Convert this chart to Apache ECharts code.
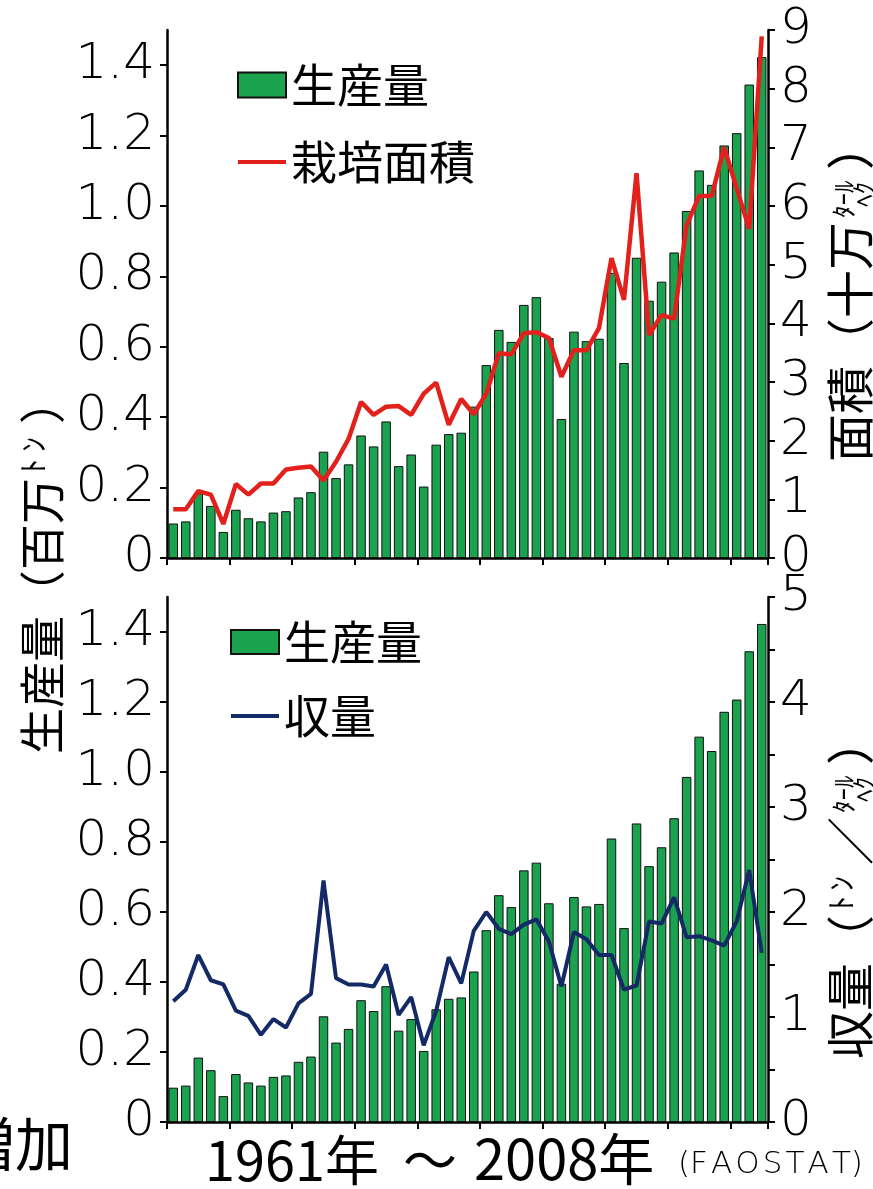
<!DOCTYPE html>
<html>
<head>
<meta charset="utf-8">
<script src="https://cdn.jsdelivr.net/npm/echarts@6/dist/echarts.min.js"></script>
<style>
  html, body { margin: 0; padding: 0; background: #fff; }
  #chart { width: 873px; height: 1189px; }
</style>
</head>
<body>
<div id="chart"></div>
<script>
// Years 1961–2008
const years = [
  '1961','1962','1963','1964','1965','1966','1967','1968','1969','1970',
  '1971','1972','1973','1974','1975','1976','1977','1978','1979','1980',
  '1981','1982','1983','1984','1985','1986','1987','1988','1989','1990',
  '1991','1992','1993','1994','1995','1996','1997','1998','1999','2000',
  '2001','2002','2003','2004','2005','2006','2007','2008'
];

// Production (million tonnes)
const production = [
  0.098, 0.104, 0.184, 0.148, 0.074, 0.137, 0.113, 0.104, 0.129, 0.133,
  0.172, 0.187, 0.302, 0.227, 0.266, 0.348, 0.317, 0.388, 0.261, 0.294,
  0.203, 0.322, 0.352, 0.356, 0.430, 0.548, 0.648, 0.614, 0.719, 0.741,
  0.625, 0.395, 0.643, 0.616, 0.623, 0.810, 0.554, 0.853, 0.731, 0.785,
  0.868, 0.986, 1.101, 1.060, 1.172, 1.207, 1.345, 1.423
];

// Harvested area (100,000 ha)
const area = [
  0.83, 0.83, 1.14, 1.08, 0.58, 1.26, 1.08, 1.27, 1.27, 1.51,
  1.54, 1.56, 1.32, 1.64, 2.03, 2.66, 2.44, 2.58, 2.59, 2.44,
  2.80, 2.99, 2.27, 2.71, 2.45, 2.80, 3.49, 3.47, 3.83, 3.85,
  3.75, 3.09, 3.54, 3.54, 3.92, 5.11, 4.40, 6.56, 3.80, 4.14,
  4.08, 5.67, 6.17, 6.17, 7.00, 6.30, 5.61, 8.89
];

// Yield (t/ha)
const yieldPerHa = [
  1.15, 1.26, 1.59, 1.35, 1.31, 1.06, 1.01, 0.83, 0.98, 0.90,
  1.13, 1.22, 2.30, 1.37, 1.31, 1.31, 1.29, 1.50, 1.02, 1.19,
  0.73, 1.06, 1.57, 1.32, 1.82, 2.00, 1.84, 1.79, 1.88, 1.93,
  1.72, 1.29, 1.81, 1.74, 1.59, 1.59, 1.26, 1.30, 1.91, 1.89,
  2.14, 1.76, 1.77, 1.73, 1.68, 1.91, 2.40, 1.61
];

// Tick values
const productionTicks = [0, 0.2, 0.4, 0.6, 0.8, 1.0, 1.2, 1.4];
const areaTicks = [0, 1, 2, 3, 4, 5, 6, 7, 8, 9];
const yieldTicks = [0, 0.5, 1, 1.5, 2, 2.5, 3, 3.5, 4, 4.5, 5];
const yieldLabels = [0, 1, 2, 3, 4, 5];

const JP = '"Noto Sans CJK JP", "Noto Sans CJK SC", sans-serif';
const NUM = '"DejaVu Sans", "Liberation Sans", sans-serif';
const GREEN = '#1ba24f';
const RED = '#e3211c';
const NAVY = '#142a66';

const axisLineStyle = { lineStyle: { color: '#000', width: 2.5 } };
const tickStyle = { show: true, length: 7, lineStyle: { color: '#000', width: 2 } };
const numLabel = {
  color: '#000', fontFamily: NUM, fontSize: 50, fontWeight: 200, margin: 12
};
// Thin horizontal bar used as the legend swatch of a line series
const LINE_ICON = 'path://M0,0H48V4H0Z';

function fmtProd(v) { return v === 0 ? '0' : v.toFixed(1); }

// Rotated (bottom-to-top) axis caption built from segments; a segment may
// stack two small lines (ﾍｸ / ﾀｰﾙ).
function rotatedCaption(cx, cy, segs) {
  const total = segs.reduce((s, g) => s + g.adv, 0);
  let x = -total / 2;
  const children = [];
  segs.forEach(g => {
    g.lines.forEach(l => {
      children.push({
        type: 'text',
        x: x + (l.dx || 0),
        y: l.dy || 0,
        style: {
          text: l.t,
          font: l.size + 'px ' + JP,
          fill: '#000',
          align: 'left',
          verticalAlign: 'middle'
        }
      });
    });
    x += g.adv;
  });
  return { type: 'group', x: cx, y: cy, rotation: Math.PI / 2, children };
}

const big = 46, bigR = 48, small = 25;
const hectare = {
  adv: 52, lines: [
    { t: 'ﾀｰﾙ', size: small, dy: -7, dx: 4 },
    { t: 'ﾍｸ', size: small, dy: 13, dx: 15 }
  ]
};

const leftCaption = rotatedCaption(42, 566, [
  { adv: big * 6, lines: [{ t: '生産量（百万', size: big }] },
  { adv: 26, lines: [{ t: 'ﾄ', size: 30, dy: -9, dx: 4 }] },
  { adv: 28, lines: [{ t: 'ﾝ', size: 30, dy: -9 }] },
  { adv: big, lines: [{ t: '）', size: big }] }
]);

const areaCaption = rotatedCaption(850, 292, [
  { adv: bigR * 5, lines: [{ t: '面積（十万', size: bigR }] },
  hectare,
  { adv: bigR, lines: [{ t: '）', size: bigR }] }
]);

const yieldCaption = rotatedCaption(850, 888, [
  { adv: bigR * 3, lines: [{ t: '収量（', size: bigR }] },
  { adv: 24, lines: [{ t: 'ﾄ', size: 30, dy: -9, dx: 4 }] },
  { adv: 26, lines: [{ t: 'ﾝ', size: 30, dy: -9 }] },
  { adv: bigR, lines: [{ t: '／', size: bigR }] },
  hectare,
  { adv: bigR, lines: [{ t: '）', size: bigR }] }
]);

const chart = echarts.init(document.getElementById('chart'), null, { renderer: 'canvas' });

const legendText = { fontFamily: JP, fontSize: 46, color: '#000' };

const option = {
  animation: false,
  backgroundColor: '#fff',
  grid: [
    { left: 167, right: 105, top: 30, height: 528 },
    { left: 167, right: 105, top: 597, height: 525 }
  ],
  legend: [
    {
      data: [
        { name: '生産量', icon: 'rect' },
        { name: '栽培面積', icon: LINE_ICON }
      ],
      orient: 'vertical', left: 232, top: 57,
      itemWidth: 48, itemHeight: 25, itemGap: 31,
      selectedMode: false,
      textStyle: legendText
    },
    {
      data: [
        { name: '生産量', icon: 'rect' },
        { name: '収量', icon: LINE_ICON }
      ],
      orient: 'vertical', left: 225, top: 614,
      itemWidth: 48, itemHeight: 24, itemGap: 28,
      selectedMode: false,
      textStyle: legendText
    }
  ],
  xAxis: [0, 1].map(i => ({
    type: 'category',
    gridIndex: i,
    data: years,
    boundaryGap: true,
    axisLine: axisLineStyle,
    axisTick: Object.assign({ interval: 4 }, tickStyle),
    axisLabel: { show: false },
    splitLine: { show: false }
  })),
  yAxis: [
    {
      type: 'value', gridIndex: 0, position: 'left',
      min: 0, max: 1.5, interval: 0.2,
      axisLine: Object.assign({ show: true }, axisLineStyle),
      axisTick: Object.assign({ customValues: productionTicks }, tickStyle),
      axisLabel: Object.assign({ customValues: productionTicks, formatter: fmtProd }, numLabel),
      splitLine: { show: false }
    },
    {
      type: 'value', gridIndex: 0, position: 'right',
      min: 0, max: 9, interval: 1,
      axisLine: Object.assign({ show: true }, axisLineStyle),
      axisTick: Object.assign({ customValues: areaTicks }, tickStyle),
      axisLabel: Object.assign({ customValues: areaTicks }, numLabel),
      splitLine: { show: false }
    },
    {
      type: 'value', gridIndex: 1, position: 'left',
      min: 0, max: 1.5, interval: 0.2,
      axisLine: Object.assign({ show: true }, axisLineStyle),
      axisTick: Object.assign({ customValues: productionTicks }, tickStyle),
      axisLabel: Object.assign({ customValues: productionTicks, formatter: fmtProd }, numLabel),
      splitLine: { show: false }
    },
    {
      type: 'value', gridIndex: 1, position: 'right',
      min: 0, max: 5, interval: 0.5,
      axisLine: Object.assign({ show: true }, axisLineStyle),
      axisTick: Object.assign({ customValues: yieldTicks }, tickStyle),
      axisLabel: Object.assign({ customValues: yieldLabels }, numLabel),
      splitLine: { show: false }
    }
  ],
  series: [
    {
      name: '生産量', type: 'bar', xAxisIndex: 0, yAxisIndex: 0,
      data: production, barWidth: 9.5,
      itemStyle: { color: GREEN, borderColor: '#111', borderWidth: 1 }
    },
    {
      name: '栽培面積', type: 'line', xAxisIndex: 0, yAxisIndex: 1,
      data: area, symbol: 'none', z: 5,
      lineStyle: { color: RED, width: 4.5 }, itemStyle: { color: RED }
    },
    {
      name: '生産量', type: 'bar', xAxisIndex: 1, yAxisIndex: 2,
      data: production, barWidth: 9.5,
      itemStyle: { color: GREEN, borderColor: '#111', borderWidth: 1 }
    },
    {
      name: '収量', type: 'line', xAxisIndex: 1, yAxisIndex: 3,
      data: yieldPerHa, symbol: 'none', z: 5,
      lineStyle: { color: NAVY, width: 4 }, itemStyle: { color: NAVY }
    }
  ],
  graphic: [
    leftCaption,
    areaCaption,
    yieldCaption,
    {
      type: 'text', left: 205, top: 1133,
      style: { text: '1961年', font: '54px ' + JP, fill: '#000' }
    },
    {
      type: 'text', left: 403, top: 1133,
      style: { text: '～', font: '54px ' + JP, fill: '#000' }
    },
    {
      type: 'text', left: 474, top: 1131,
      style: { text: '2008年', font: '56px ' + JP, fill: '#000' }
    },
    {
      type: 'text', left: 678, top: 1149,
      style: { text: '(F\u200aA\u200aO\u200aS\u200aT\u200aA\u200aT)', font: '200 31px ' + NUM, fill: '#000' }
    },
    {
      type: 'text', right: 800, top: 1115,
      style: { text: '増加', font: '58px ' + JP, fill: '#000' }
    }
  ]
};

chart.setOption(option);
</script>
</body>
</html>
